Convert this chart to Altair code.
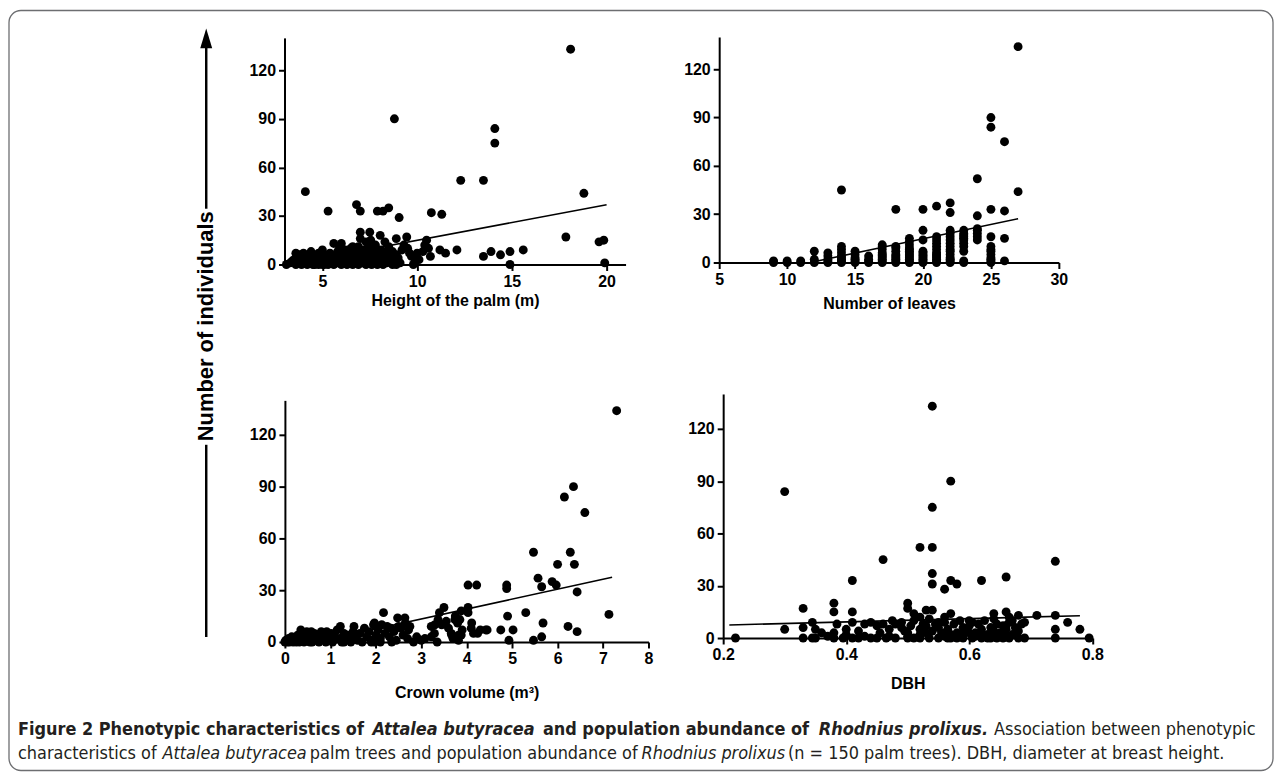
import altair as alt
import pandas as pd

# ---------------- data ----------------
# Panel A: height of the palm (m) vs number of individuals
height_x = [18.1, 8.8, 14.1, 14.1, 12.3, 13.5, 4.1, 18.8, 5.3, 6.8, 7.0, 7.9, 8.2, 8.5, 9.05, 10.75, 11.3,
            17.85, 19.6, 19.85, 19.9, 14.9, 14.9, 14.4, 15.6, 13.5, 13.9, 12.1, 11.5, 11.2, 10.7, 10.5, 10.4,
            10.0, 9.9, 9.6, 9.45, 8.9, 8.9, 8.05, 7.5, 7.0, 7.55, 5.6, 5.9, 6.6,
            3.1, 3.3, 3.5, 3.6, 3.7, 3.8, 3.9, 4.0, 4.0, 4.1, 4.2, 4.3, 4.4, 4.5, 4.5, 4.6, 4.7, 4.8, 4.8, 4.9,
            5.0, 5.0, 5.1, 5.2, 5.2, 5.3, 5.4, 5.5, 5.5, 5.6, 5.7, 5.8, 5.8, 5.9, 6.0, 6.0, 6.1, 6.2, 6.2, 6.3,
            6.4, 6.4, 6.5, 6.6, 6.7, 6.7, 6.8, 6.9, 6.9, 7.0, 7.0, 7.1, 7.2, 7.2, 7.3, 7.3, 7.4, 7.5, 7.5, 7.6,
            7.6, 7.7, 7.8, 7.9, 8.0, 8.0, 8.1, 8.2, 8.2, 8.3, 8.4, 8.5, 8.5, 8.6, 8.7, 8.7, 8.8, 8.9, 9.0, 9.1,
            9.2, 3.4, 4.2, 5.1, 6.1, 7.8, 6.5, 5.3, 4.6, 3.8, 9.3, 9.5, 9.8, 10.1, 10.3, 10.6, 9.7, 8.3, 7.0,
            6.0, 5.0, 4.4, 3.6]
height_y = [133, 90, 84, 75, 52, 52, 45, 44, 33, 37, 33, 33, 33, 35, 29, 32, 31,
            17, 14, 15, 1, 0, 8, 6, 9, 5, 8, 9, 7, 9, 5, 15, 12,
            7, 2, 7, 17, 16, 0, 18, 20, 20, 15, 13, 10, 11,
            0, 1, 3, 0, 5, 2, 0, 7, 1, 4, 0, 2, 6, 0, 3, 1, 5, 0, 7, 2,
            4, 0, 6, 1, 3, 0, 7, 2, 5, 0, 4, 1, 8, 3, 0, 6, 2, 9, 4, 0,
            1, 6, 3, 0, 8, 5, 2, 0, 11, 4, 7, 1, 9, 3, 0, 14, 6, 2, 10, 0,
            5, 8, 3, 0, 6, 2, 9, 4, 0, 7, 1, 5, 11, 3, 0, 8, 2, 6, 4, 1,
            9, 2, 5, 0, 7, 12, 10, 2, 0, 6, 12, 10, 0, 3, 8, 10, 5, 14, 16,
            13, 9, 8, 7]

# Panel B: number of leaves vs number of individuals
leaves_x = [9, 9, 10, 10, 11, 11, 12, 12, 12, 13, 13, 13, 13, 13,
            14, 14, 14, 14, 14, 14, 14, 14, 14, 15, 15, 15, 15, 15, 15, 16, 16, 16, 16,
            17, 17, 17, 17, 17, 17, 17, 17, 17, 17, 18, 18, 18, 18, 18, 18, 18, 18, 18, 18,
            19, 19, 19, 19, 19, 19, 19, 19, 19, 19, 19, 19, 19,
            20, 20, 20, 20, 20, 20, 20, 20, 20, 20, 20,
            21, 21, 21, 21, 21, 21, 21, 21, 21, 21, 21, 21, 21,
            22, 22, 22, 22, 22, 22, 22, 22, 22, 22, 22, 22, 22, 22, 22,
            23, 23, 23, 23, 23, 23, 23, 23, 23, 23, 23,
            24, 24, 24, 24, 24, 24, 24,
            25, 25, 25, 25, 25, 25, 25, 25, 25, 25, 25, 25,
            26, 26, 26, 26, 27, 27]
leaves_y = [0, 1, 0, 1, 0, 1, 0, 2, 7, 0, 1, 2, 4, 6,
            0, 1, 2, 3, 4, 6, 8, 10, 45, 0, 1, 2, 3, 5, 7, 0, 1, 2, 4,
            0, 1, 2, 3, 4, 5, 6, 8, 10, 11, 0, 1, 2, 3, 4, 5, 7, 9, 10, 33,
            0, 1, 2, 3, 4, 5, 6, 7, 8, 9, 11, 13, 15,
            0, 1, 2, 3, 4, 5, 6, 7, 14, 20, 33,
            0, 1, 2, 3, 4, 5, 6, 8, 10, 12, 14, 16, 35,
            0, 1, 2, 3, 5, 7, 8, 10, 12, 14, 16, 18, 20, 31, 37,
            0, 1, 7, 10, 12, 14, 15, 16, 17, 18, 20,
            14, 16, 18, 20, 21, 29, 52,
            0, 1, 2, 3, 5, 7, 8, 10, 16, 33, 84, 90,
            1, 15, 32, 75, 44, 134]

# Panel C: crown volume (m3) vs number of individuals
crown_x = [7.3, 6.35, 6.15, 6.6, 5.47, 6.28, 6.0, 6.37, 5.57, 5.65, 5.88, 5.97, 6.43, 7.13, 4.88, 4.88,
           4.03, 4.22, 5.3, 4.9, 5.68, 5.65, 5.47, 6.23, 6.43, 4.93, 4.75, 5.02, 4.42, 4.24, 4.03, 4.03,
           3.88, 3.75, 3.5, 3.8, 3.66, 3.88, 3.37, 3.22, 3.29, 3.08, 3.22, 2.83, 3.0, 2.17, 2.48, 2.64,
           2.72, 2.5, 2.33, 2.13, 1.97, 2.35, 1.97, 4.11, 3.82, 3.67, 3.82, 3.4, 3.45, 3.74,
           0.0, 0.02, 0.05, 0.08, 0.1, 0.12, 0.15, 0.18, 0.2, 0.22, 0.25, 0.28, 0.3, 0.32, 0.35, 0.38,
           0.4, 0.42, 0.45, 0.48, 0.5, 0.52, 0.55, 0.58, 0.6, 0.65, 0.7, 0.72, 0.75, 0.8, 0.82, 0.85,
           0.9, 0.92, 0.95, 1.0, 1.02, 1.05, 1.1, 1.15, 1.2, 1.22, 1.25, 1.3, 1.35, 1.4, 1.45, 1.5,
           1.52, 1.55, 1.6, 1.65, 1.7, 1.75, 1.8, 1.85, 1.9, 1.95, 2.0, 2.05, 2.1, 2.2, 2.25, 2.3,
           2.4, 2.45, 2.55, 2.6, 2.65, 2.7, 2.75, 3.3, 3.55, 3.6, 3.7, 3.85, 3.9, 4.1, 4.15, 4.3,
           4.45, 3.35, 0.6, 1.3, 1.9, 2.1, 2.9]
crown_y = [134, 90, 84, 75, 52, 52, 45, 45, 37, 32, 35, 33, 29, 16, 33, 31,
           33, 33, 17, 15, 11, 3, 1, 9, 6, 1, 7, 7, 7, 5, 17, 20,
           18, 15, 20, 11, 5, 4, 13, 9, 5, 2, 3, 0, 1, 17, 14, 14,
           7, 9, 8, 10, 11, 0, 0, 11, 4, 4, 1, 17, 10, 13,
           0, 1, 0, 2, 0, 1, 3, 0, 2, 1, 0, 4, 1, 0, 7, 2,
           5, 0, 3, 6, 1, 4, 0, 6, 2, 5, 1, 3, 0, 6, 2, 4,
           0, 6, 3, 1, 5, 0, 3, 7, 2, 9, 0, 5, 2, 4, 0, 6,
           9, 3, 1, 5, 0, 8, 3, 6, 1, 10, 4, 7, 2, 5, 9, 3,
           6, 1, 8, 4, 11, 2, 9, 10, 12, 8, 2, 13, 7, 8, 5, 7,
           7, 0, 0, 0, 0, 0, 3]

# Panel D: DBH vs number of individuals
dbh_x = [0.22, 0.30, 0.30, 0.33, 0.38, 0.38, 0.41, 0.41, 0.46, 0.50, 0.50, 0.51, 0.52, 0.54, 0.53, 0.54,
         0.54, 0.54, 0.57, 0.54, 0.54, 0.56, 0.57, 0.58, 0.62, 0.66, 0.64, 0.66, 0.71, 0.74, 0.74, 0.74,
         0.74, 0.76, 0.78, 0.795, 0.68, 0.69, 0.69, 0.68,
         0.33, 0.345, 0.38, 0.395, 0.41, 0.44, 0.465, 0.48, 0.50, 0.52, 0.535, 0.55, 0.565, 0.58, 0.59,
         0.605, 0.62, 0.635, 0.645, 0.655, 0.665,
         0.33, 0.345, 0.35, 0.38, 0.385, 0.40, 0.41, 0.42, 0.43, 0.44, 0.45, 0.455, 0.46, 0.47, 0.475,
         0.48, 0.49, 0.495, 0.50, 0.505, 0.51, 0.52, 0.525, 0.53, 0.535, 0.54, 0.545, 0.55, 0.555, 0.56,
         0.565, 0.57, 0.575, 0.58, 0.585, 0.59, 0.595, 0.60, 0.605, 0.61, 0.615, 0.62, 0.625, 0.63, 0.635,
         0.64, 0.645, 0.65, 0.655, 0.66, 0.665, 0.67, 0.675, 0.68, 0.685, 0.665, 0.67, 0.64, 0.60, 0.55,
         0.52, 0.47, 0.43, 0.36, 0.37,
         0.50, 0.56, 0.58, 0.61, 0.63, 0.66, 0.53, 0.57, 0.59, 0.62, 0.45, 0.40, 0.56, 0.60, 0.64, 0.52,
         0.49, 0.66, 0.35, 0.42, 0.51, 0.57]
dbh_y = [0, 84, 5, 17, 20, 15, 33, 15, 45, 20, 17, 14, 52, 52, 16, 16,
         133, 75, 90, 37, 31, 28, 33, 31, 33, 35, 14, 15, 13, 44, 13, 5,
         0, 9, 5, 0, 13, 9, 0, 0,
         0, 0, 0, 0, 0, 0, 0, 0, 0, 0, 0, 0, 0, 0, 0,
         0, 0, 0, 0, 0, 0,
         6, 9, 5, 3, 8, 2, 9, 4, 8, 9, 7, 3, 8, 5, 10,
         8, 9, 4, 3, 7, 10, 5, 8, 7, 11, 4, 8, 6, 3, 12,
         5, 14, 8, 3, 10, 6, 4, 7, 9, 3, 8, 5, 10, 2, 6,
         4, 8, 3, 7, 5, 9, 2, 6, 4, 8, 12, 10, 11, 10, 9,
         2, 1, 1, 3, 1,
         1, 1, 1, 1, 0, 1, 3, 2, 2, 2, 0, 5, 9, 3, 2, 12,
         6, 7, 0, 0, 0, 0]

# regression lines (end points)
height_fit_x, height_fit_y = [3.2, 20.0], [0.0, 36.9]
leaves_fit_x, leaves_fit_y = [11.7, 27.0], [0.0, 27.2]
crown_fit_x, crown_fit_y = [0.68, 7.2], [0.0, 37.5]
dbh_fit_x, dbh_fit_y = [0.21, 0.78], [7.5, 12.8]

y_ticks = [0, 30, 60, 90, 120]

# caption segments: (text, x, y, style)
cap_text = ["Figure 2 Phenotypic characteristics of", "Attalea butyracea", "and population abundance of",
            "Rhodnius prolixus.", "Association between phenotypic",
            "characteristics of", "Attalea butyracea", "palm trees and population abundance of",
            "Rhodnius prolixus", "(n = 150 palm trees). DBH, diameter at breast height."]
cap_x = [10, 366, 537, 814, 990,
         10, 155, 303, 636, 783]
cap_y = [723, 723, 723, 723, 723, 747, 747, 747, 747, 747]
cap_style = ["b", "bi", "b", "bi", "r", "r", "i", "r", "i", "r"]

# ---------------- layout ----------------
W, H = 1271, 765
FONT = "Liberation Sans, Arial, Helvetica, sans-serif"
CAPFONT = "Liberation Sans Narrow, Arial Narrow, DejaVu Sans Condensed, Liberation Sans, sans-serif"


def axis_style(**kw):
    base = dict(domainColor="black", domainWidth=2, tickColor="black", tickWidth=2, tickSize=6,
                labelFont=FONT, labelFontSize=16, labelFontWeight="bold", labelColor="black",
                titleFont=FONT, titleFontSize=16, titleFontWeight="bold", titleColor="black",
                grid=False, labelFlush=False, labelOverlap=False, labelPadding=3)
    base.update(kw)
    return alt.Axis(**base)


def panel(xs, ys, fx, fy, xdom, xrng, yrng, xticks, xtitle, xfmt, tpad):
    pts = pd.DataFrame({"x": xs, "y": ys})
    fit = pd.DataFrame({"x": fx, "y": fy})
    xscale = alt.Scale(domain=xdom, range=xrng, nice=False, zero=False)
    yscale = alt.Scale(domain=[0, 140], range=yrng, nice=False, zero=False)
    xaxis = axis_style(orient="bottom", offset=yrng[0] - H, values=xticks, title=xtitle,
                       format=xfmt, titlePadding=tpad)
    yaxis = axis_style(orient="left", offset=-xrng[0], values=y_ticks, title=None, labelPadding=3)
    enc = dict(x=alt.X("x:Q", scale=xscale, axis=xaxis), y=alt.Y("y:Q", scale=yscale, axis=yaxis))
    p = alt.Chart(pts).mark_circle(size=80, color="black", opacity=1).encode(**enc)
    l = alt.Chart(fit).mark_line(color="black", strokeWidth=1.6).encode(**enc)
    return alt.layer(p, l)


pA = panel(height_x, height_y, height_fit_x, height_fit_y, [3, 21], [277.6, 620], [256, 28.5],
           [5, 10, 15, 20], "Height of the palm (m)", "d", 3)
pB = panel(leaves_x, leaves_y, leaves_fit_x, leaves_fit_y, [5, 30], [714, 1055], [254, 27.6],
           [5, 10, 15, 20, 25, 30], "Number of leaves", "d", 8)
pC = panel(crown_x, crown_y, crown_fit_x, crown_fit_y, [0, 8], [278, 643], [635, 392.4],
           [0, 1, 2, 3, 4, 5, 6, 7, 8], "Crown volume (m³)", "d", 18)
pD = panel(dbh_x, dbh_y, dbh_fit_x, dbh_fit_y, [0.2, 0.8], [718, 1088.5], [631, 386],
           [0.2, 0.4, 0.6, 0.8], "DBH", ".1f", 13)

# caption
cap = pd.DataFrame({"t": cap_text, "px": cap_x, "py": cap_y, "s": cap_style})
cap_layers = []
for s, weight, fstyle in [("b", "bold", "normal"), ("bi", "bold", "italic"),
                          ("r", "normal", "normal"), ("i", "normal", "italic")]:
    cap_layers.append(
        alt.Chart(cap).transform_filter(alt.datum.s == s).mark_text(
            align="left", baseline="middle", font=CAPFONT, fontSize=18, fontWeight=weight,
            fontStyle=fstyle, color="#231f20"
        ).encode(x=alt.X("px:Q", scale=None), y=alt.Y("py:Q", scale=None), text="t:N")
    )

# big shared y label with arrow
ylab = alt.Chart(pd.DataFrame({"t": ["Number of individuals"]})).mark_text(
    font=FONT, fontSize=22, fontWeight="bold", angle=270, align="center", baseline="middle", color="black"
).encode(x=alt.value(199), y=alt.value(318), text="t:N")
arrow_top = alt.Chart(pd.DataFrame({"a": [1]})).mark_rule(color="black", strokeWidth=2.5).encode(
    x=alt.value(199), y=alt.value(36), y2=alt.value(200))
arrow_bot = alt.Chart(pd.DataFrame({"a": [1]})).mark_rule(color="black", strokeWidth=2.5).encode(
    x=alt.value(199), y=alt.value(437), y2=alt.value(630))
arrow_head = alt.Chart(pd.DataFrame({"a": [1]})).mark_point(
    shape="M0,-1L0.6,1L-0.6,1Z", filled=True, color="black", opacity=1, size=400
).encode(x=alt.value(199), y=alt.value(29))

border = alt.Chart(pd.DataFrame({"a": [1]})).mark_rect(
    fillOpacity=0, stroke="#6d6e71", strokeWidth=1.3, cornerRadius=12
).encode(x=alt.value(1), x2=alt.value(W - 1), y=alt.value(1), y2=alt.value(H - 1))

chart = alt.layer(pA, pB, pC, pD, *cap_layers, ylab, arrow_top, arrow_bot, arrow_head, border).resolve_scale(
    x="independent", y="independent"
).resolve_axis(
    x="independent", y="independent"
).properties(
    width=W, height=H, padding=0, background="white"
).configure_view(stroke=None)

chart.save("out.html", embed_options={"renderer": "svg", "actions": False})
